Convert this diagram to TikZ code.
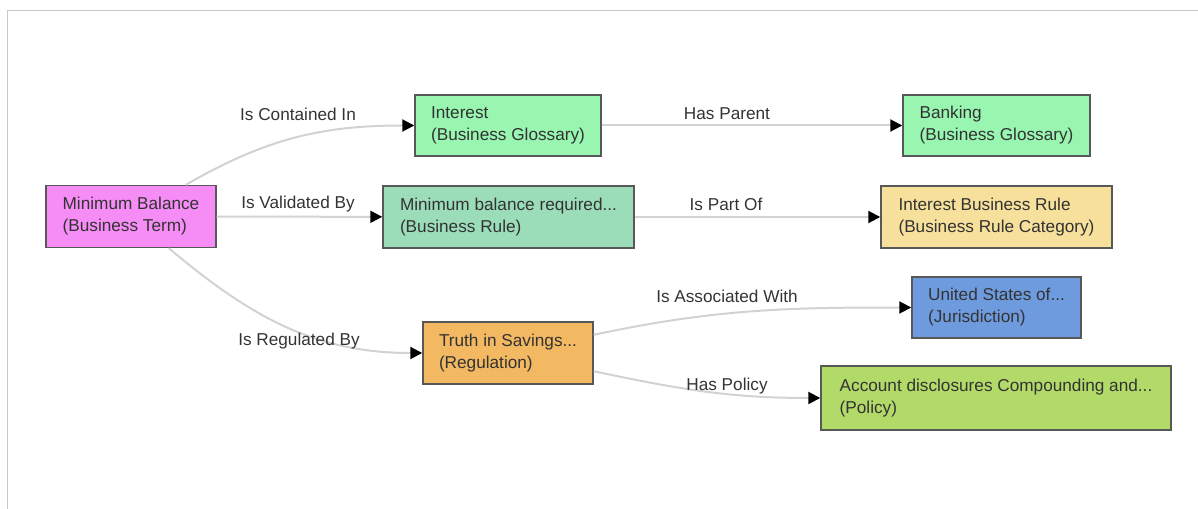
\documentclass[tikz,border=0pt]{standalone}
\usepackage{fontspec}
\setmainfont{Liberation Sans}
\usetikzlibrary{arrows.meta}

\definecolor{termpink}{RGB}{246,140,245}
\definecolor{glossgreen}{RGB}{152,246,176}
\definecolor{rulegreen}{RGB}{155,221,185}
\definecolor{catyellow}{RGB}{246,224,155}
\definecolor{regorange}{RGB}{242,184,98}
\definecolor{jurblue}{RGB}{110,155,222}
\definecolor{polgreen}{RGB}{178,218,104}
\definecolor{boxline}{RGB}{88,88,88}
\definecolor{linkgray}{RGB}{210,210,210}
\definecolor{framegray}{RGB}{200,200,200}
\definecolor{txt}{RGB}{51,51,51}

\begin{document}
\begin{tikzpicture}[x=0.75pt, y=-0.75pt,
        item/.style={rectangle, draw=boxline, line width=1.1pt, align=left, text=txt, minimum height=46.5pt, font=\fontsize{12.9}{16.5}\selectfont},
        link/.style={draw=linkgray, line width=1.5pt, -{Triangle[length=9pt, width=9pt, black]}},
        lbl/.style={text=txt, font=\fontsize{12.9}{16.5}\selectfont}
    ]
        \useasboundingbox (0,0) rectangle (1198,509);
        \draw[framegray, line width=1.1pt] (1198,10.5) -- (7.5,10.5) -- (7.5,509);

        \node[item, fill=termpink, minimum width=127.5pt] (mb) at (131,216.5) {Minimum Balance\\(Business Term)};
        \node[item, fill=glossgreen, minimum width=139.5pt, minimum height=45.75pt] (int) at (508,125.5) {Interest\\(Business Glossary)};
        \node[item, fill=rulegreen, minimum width=188.25pt] (rule) at (508.5,217) {Minimum balance required...\\(Business Rule)};
        \node[item, fill=glossgreen, minimum width=140.25pt, minimum height=45.75pt] (bank) at (996.5,125.5) {Banking\\(Business Glossary)};
        \node[item, fill=catyellow, minimum width=173.25pt] (ibr) at (996.5,217) {Interest Business Rule\\(Business Rule Category)};
        \node[item, fill=regorange, minimum width=127.5pt] (truth) at (508,353) {Truth in Savings...\\(Regulation)};
        \node[item, fill=jurblue, minimum width=126.75pt, minimum height=45.75pt] (us) at (996.5,307.5) {United States of...\\(Jurisdiction)};
        \node[item, fill=polgreen, minimum width=262.5pt, minimum height=48pt] (pol) at (996,398) {Account disclosures Compounding and...\\(Policy)};

        \draw[link] (mb) to[out=30, in=180] (int);
        \draw[link] (mb) -- (rule);
        \draw[link] (mb) to[out=-40, in=180] (truth);
        \draw[link] (int) -- (bank);
        \draw[link] (rule) -- (ibr);
        \draw[link] (truth) to[out=12, in=180] (us);
        \draw[link] (truth) to[out=-12, in=180] (pol);

        \node[lbl] (contained) at (298,114) {Is Contained In};
        \node[lbl] (validated) at (298,204) {Is Validated By};
        \node[lbl] (regulated) at (299,341) {Is Regulated By};
        \node[lbl] (parent) at (727,114) {Has Parent};
        \node[lbl] (partof) at (726,204) {Is Part Of};
        \node[lbl] (associated) at (727,296) {Is Associated With};
        \node[lbl] (policy) at (727,386) {Has Policy};
    \end{tikzpicture}
\end{document}
